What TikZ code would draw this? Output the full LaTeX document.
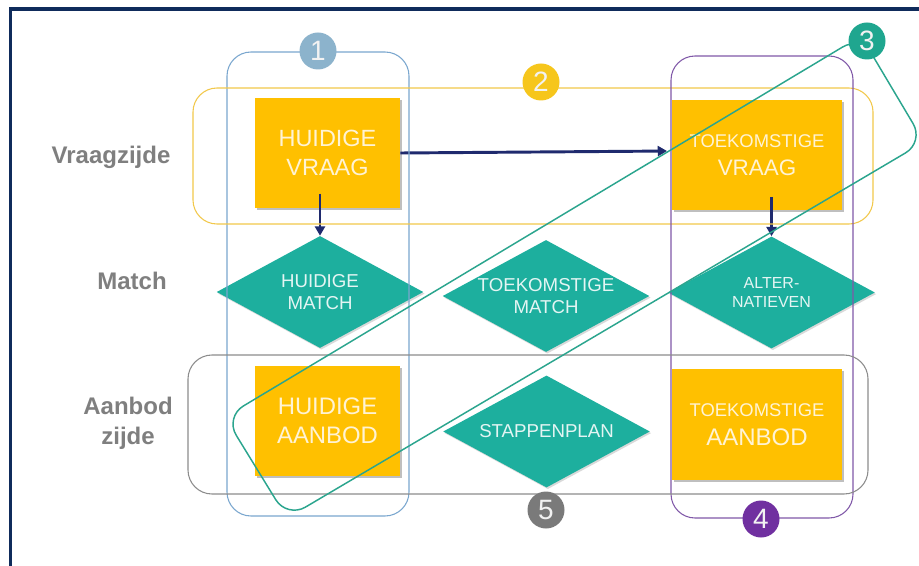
\documentclass[tikz,border=0pt]{standalone}
\usepackage{fontspec}
\setmainfont{Liberation Sans}
\usetikzlibrary{shapes.geometric,arrows.meta,shadows}
\definecolor{vakgeel}{HTML}{FFC000}
\definecolor{ruitgroen}{HTML}{1DAF9E}
\definecolor{pijlblauw}{HTML}{1F2A6E}
\definecolor{kader}{HTML}{0F2B5B}
\definecolor{tekstroom}{HTML}{FFF3D4}
\definecolor{grijstekst}{HTML}{7F7F7F}
\definecolor{kring1}{HTML}{8CB3CC}
\definecolor{lijn1}{HTML}{7AA7CF}
\definecolor{kring2}{HTML}{F6C61C}
\definecolor{lijn2}{HTML}{F2C84B}
\definecolor{kring3}{HTML}{1FA68F}
\definecolor{lijn3}{HTML}{2BA58E}
\definecolor{kring4}{HTML}{7030A0}
\definecolor{lijn4}{HTML}{8058A8}
\definecolor{kring5}{HTML}{7A7A7A}
\definecolor{lijn5}{HTML}{8C8C8C}
\tikzset{
  vak/.style={fill=vakgeel, text=tekstroom, minimum height=82.5pt, inner sep=0pt, align=center,
    drop shadow={shadow xshift=1.2pt, shadow yshift=-1.5pt, opacity=.25, fill=black}},
  ruit/.style={diamond, fill=ruitgroen, minimum width=155pt, minimum height=84pt, inner sep=0pt,
    drop shadow={shadow xshift=1pt, shadow yshift=-1.2pt, opacity=.15, fill=black}},
  ruittekst/.style={text=white!88!ruitgroen, align=center, font=\fontsize{14}{17}\selectfont},
  rij/.style={text=grijstekst, align=center, font=\fontsize{18}{22.5}\selectfont\bfseries},
  kring/.style={circle, minimum size=27.75pt, inner sep=0pt, text=white!95!black,
    font=\fontsize{21}{21}\selectfont},
  groep/.style={line width=0.8pt, rounded corners=18pt},
  pijl/.style={draw=pijlblauw, line width=2.2pt, -{Triangle[length=7pt,width=7.5pt]}},
}
\begin{document}
\begin{tikzpicture}[x=0.75pt,y=-0.75pt]
  \useasboundingbox (0,0) rectangle (919,566);
  \fill[white] (0,0) rectangle (919,566);
  \clip (0,0) rectangle (919,566);
  \draw[kader, line width=2.4pt] (10.5,570) -- (10.5,9) -- (925,9);
  % rijen
  \node[rij] (vraag) at (111,157) {Vraagzijde};
  \node[rij] (match) at (132,281) {Match};
  \node[rij] (aanbod) at (128,423) {Aanbod\\zijde};
  % vakken
  \node[vak, minimum width=108.75pt, font=\fontsize{17.6}{21.75}\selectfont] (hv) at (327.5,153) {HUIDIGE\\VRAAG};
  \node[vak, minimum width=127.5pt, font=\fontsize{13.8}{21}\selectfont] (tv) at (757,155)
    {TOEKOMSTIGE\\{\fontsize{16.8}{21}\selectfont VRAAG}};
  \node[vak, minimum width=108.75pt, font=\fontsize{17.9}{21.75}\selectfont] (ha) at (327.5,421) {HUIDIGE\\AANBOD};
  \node[vak, minimum width=127.5pt, minimum height=83pt, font=\fontsize{13.8}{21.75}\selectfont] (ta) at (757,424.5)
    {TOEKOMSTIGE\\{\fontsize{18}{21.75}\selectfont AANBOD}};
  % ruiten
  \node[ruit] (hm) at (320,292) {};
  \node[ruit] (tm) at (546,296) {};
  \node[ruit] (am) at (771.5,292.5) {};
  \node[ruit] (sp) at (546.5,431.5) {};
  \node[ruittekst] at (hm) {HUIDIGE\\MATCH};
  \node[ruittekst] at (tm) {TOEKOMSTIGE\\MATCH};
  \node[ruittekst, font=\fontsize{12}{14.5}\selectfont] at (am) {ALTER-\\NATIEVEN};
  \node[ruittekst] at (sp) {STAPPENPLAN};
  % pijlen
  \draw[pijl, shorten >=3.5pt] (hv.east) -- ([yshift=3pt]tv.west);
  \draw[pijl] ([yshift=11pt]hm.north |- hv.south) -- (hm.north);
  \draw[pijl] ([yshift=10pt]am.north |- tv.south) -- (am.north);
  % groepen
  \draw[groep, draw=lijn1] (227,52) rectangle (409,516);
  \draw[groep, draw=lijn2] (193,88) rectangle (873,224);
  \draw[groep, draw=lijn4] (671,56) rectangle (853,518);
  \draw[groep, draw=lijn5] (188,355) rectangle (868,494);
  \draw[groep, draw=lijn3, line width=1.1pt, rounded corners=16pt]
    (256,467.5) -- (287,518) -- (924,142) -- (861,36) -- (225,417) -- cycle;
  % nummers
  \node[kring, fill=kring1] (k1) at (318,51) {1};
  \node[kring, fill=kring2] (k2) at (541,82) {2};
  \node[kring, fill=kring3] (k3) at (867,41) {3};
  \node[kring, fill=kring4] (k4) at (761,519) {4};
  \node[kring, fill=kring5] (k5) at (546,510) {5};
\end{tikzpicture}
\end{document}
